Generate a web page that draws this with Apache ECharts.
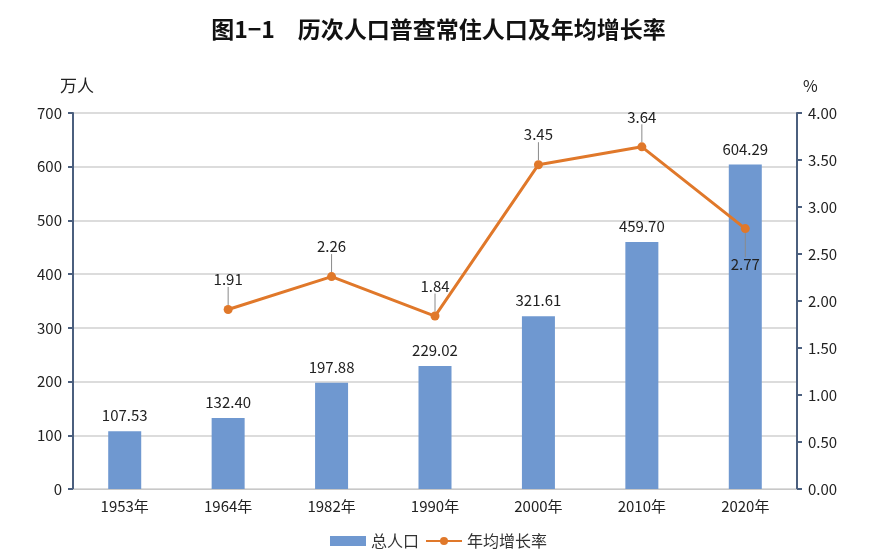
<!DOCTYPE html>
<html>
<head>
<meta charset="utf-8">
<script src="https://cdn.jsdelivr.net/npm/echarts@6/dist/echarts.min.js"></script>
<style>
html,body{margin:0;padding:0;background:#fff;}
#chart{width:877px;height:557px;}
</style>
</head>
<body>
<div id="chart"></div>
<script>
var years = ['1953年','1964年','1982年','1990年','2000年','2010年','2020年'];   // 普查年份
var population = [107.53,132.40,197.88,229.02,321.61,459.70,604.29];           // 总人口（万人）
var growthRate = ['-',1.91,2.26,1.84,3.45,3.64,2.77];                           // 年均增长率（%）
var leftTicks = [0,700,100];
var rightTicks = [0,4,0.5];

var font = '"Noto Sans CJK SC", "DejaVu Sans", sans-serif';
var myChart = echarts.init(document.getElementById('chart'));

var option = {
	backgroundColor:'#fff',
	textStyle:{fontFamily:font},
	title:{
		text:'图1−1　历次人口普查常住人口及年均增长率',
		left:'center',top:13,
		textStyle:{fontSize:23,fontWeight:'bold',color:'#111',fontFamily:font}
	},
	legend:{
		bottom:3,left:'center',itemGap:6,
		textStyle:{fontSize:16,color:'#333'},
		data:[
			{name:'总人口',icon:'rect',itemWidth:32,itemHeight:10},
			{name:'年均增长率'}
		],
		itemWidth:36,itemHeight:10
	},
	grid:{left:73,right:80,top:113,bottom:68},
	xAxis:{
		type:'category',data:years,
		axisLine:{lineStyle:{color:'#c8c8c8'}},
		axisTick:{show:false},
		axisLabel:{fontSize:15,color:'#222',margin:10}
	},
	yAxis:[{
		type:'value',name:'万人',min:leftTicks[0],max:leftTicks[1],interval:leftTicks[2],
		nameTextStyle:{fontSize:17,color:'#222',align:'left',padding:[0,0,4,-13]},
		axisLine:{show:true,lineStyle:{color:'#4b5f7e',width:2}},
		axisTick:{show:true,inside:false,length:5,lineStyle:{color:'#4b5f7e',width:2}},
		axisLabel:{fontSize:15,color:'#222',margin:11},
		splitLine:{lineStyle:{color:'#d0d0d0',width:1.5}}
	},{
		type:'value',name:'%',min:rightTicks[0],max:rightTicks[1],interval:rightTicks[2],
		nameTextStyle:{fontSize:16,color:'#222',align:'left',padding:[0,0,4,6]},
		axisLine:{show:true,lineStyle:{color:'#4b5f7e',width:2}},
		axisTick:{show:true,inside:false,length:5,lineStyle:{color:'#4b5f7e',width:2}},
		axisLabel:{fontSize:15,color:'#222',margin:11,formatter:function(v){return v.toFixed(2);}},
		splitLine:{show:false}
	}],
	series:[{
		name:'总人口',type:'bar',data:population,barWidth:33,
		itemStyle:{color:'#6f98d0'},
		label:{show:true,position:'top',distance:8,fontSize:15,color:'#222',
			formatter:function(p){return p.value.toFixed(2);}}
	},{
		name:'年均增长率',type:'line',yAxisIndex:1,data:growthRate,
		symbol:'circle',symbolSize:9,
		lineStyle:{color:'#e0782a',width:3},
		itemStyle:{color:'#e0782a'},
		label:{show:true,position:'top',distance:14,fontSize:15,color:'#222',
			formatter:function(p){return p.value.toFixed(2);}},
		labelLine:{show:true,lineStyle:{color:'#8a8a8a',width:1}},
		labelLayout:function(p){
			if(p.dataIndex===6) return {dy:62};
			return {dy:-4};
		}
	}]
};
myChart.setOption(option);
</script>
</body>
</html>
